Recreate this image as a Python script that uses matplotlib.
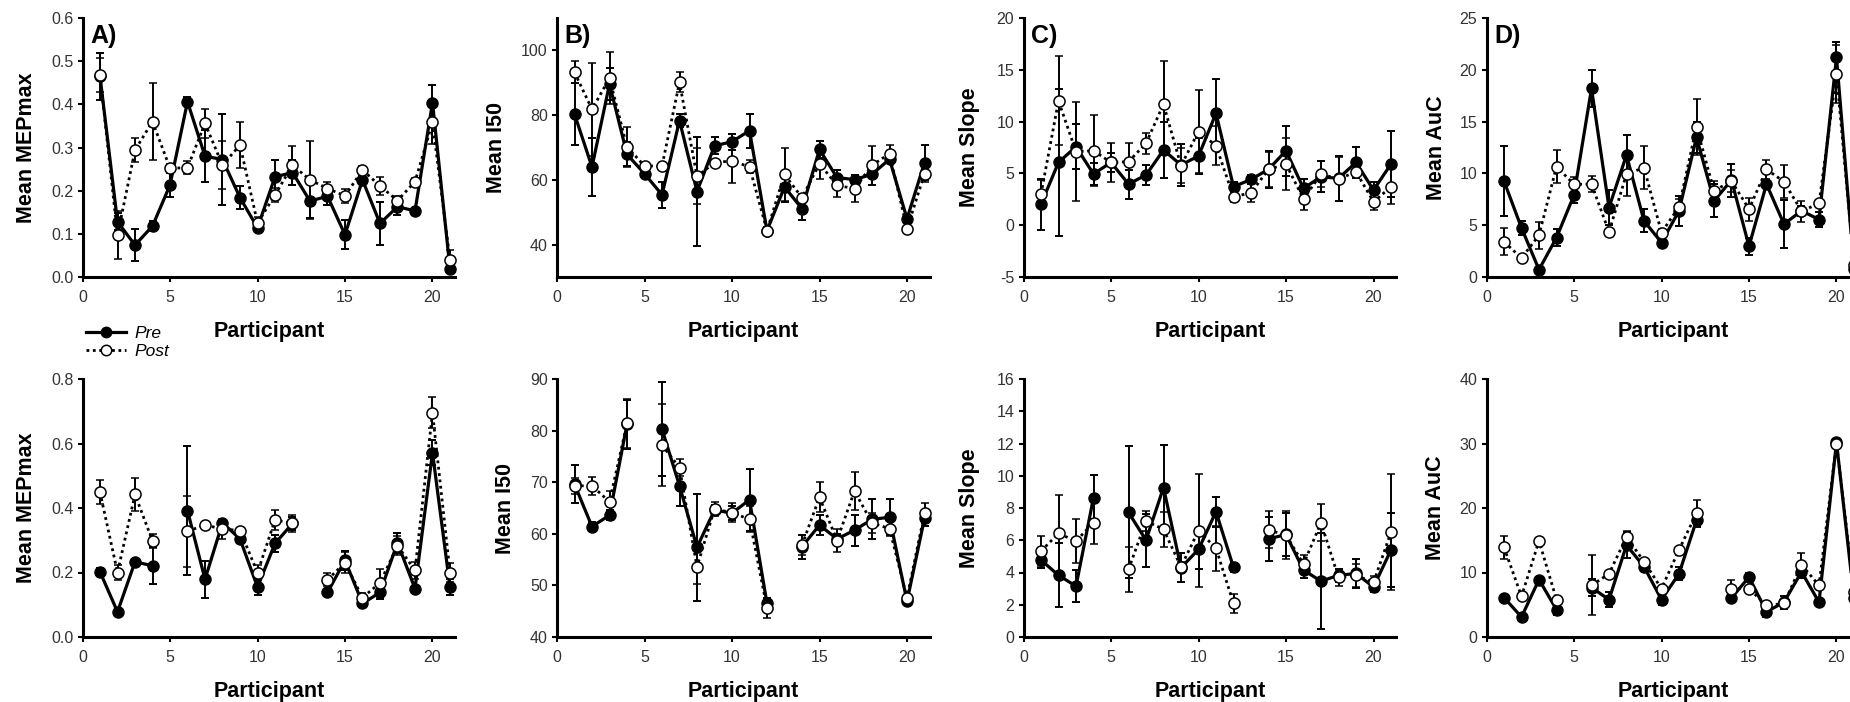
import numpy as np
import matplotlib
matplotlib.use("Agg")
import matplotlib.pyplot as plt
from matplotlib.lines import Line2D

plt.rcParams['font.family'] = ['Liberation Sans', 'DejaVu Sans']

nan = np.nan
participants = list(range(1, 22))

# ---- top row ----
mep_top_pre = [0.465, 0.128, 0.074, 0.118, 0.213, 0.406, 0.28, 0.272, 0.184, 0.114, 0.232, 0.242, 0.176, 0.187, 0.098, 0.225, 0.124, 0.163, 0.153, 0.404, 0.019]
mep_top_pre_err = [0.055, 0.02, 0.037, 0.012, 0.027, 0.01, 0.06, 0.105, 0.027, 0.01, 0.04, 0.03, 0.04, 0.02, 0.033, 0.01, 0.05, 0.02, 0.005, 0.04, 0.008]
mep_top_post = [0.468, 0.097, 0.294, 0.36, 0.252, 0.253, 0.356, 0.259, 0.306, 0.125, 0.19, 0.259, 0.225, 0.205, 0.188, 0.248, 0.211, 0.177, 0.221, 0.358, 0.039]
mep_top_post_err = [0.04, 0.055, 0.028, 0.09, 0.01, 0.015, 0.033, 0.055, 0.054, 0.015, 0.016, 0.045, 0.09, 0.015, 0.017, 0.008, 0.02, 0.01, 0.008, 0.05, 0.023]

i50_top_pre = [80.3, 64.0, 89.6, 67.9, 61.9, 55.4, 78.3, 56.4, 70.5, 71.8, 75.2, 44.3, 57.8, 51.1, 69.4, 60.7, 60.1, 61.7, 66.4, 48.0, 65.3]
i50_top_pre_err = [9.6, 9.0, 5.0, 3.7, 1.0, 4.0, 2.0, 16.7, 2.6, 2.5, 5.2, 1.0, 4.5, 3.4, 2.7, 2.3, 1.5, 3.2, 1.0, 1.0, 5.4]
i50_top_post = [93.2, 81.8, 91.4, 70.2, 64.3, 64.3, 90.1, 61.1, 65.3, 65.9, 64.0, 44.3, 61.7, 54.5, 65.0, 58.3, 57.3, 64.5, 68.1, 44.9, 61.9]
i50_top_post_err = [3.4, 14.3, 8.0, 6.2, 1.0, 1.0, 3.1, 8.6, 1.0, 6.8, 2.0, 1.0, 8.3, 1.0, 4.6, 3.6, 4.2, 6.0, 2.6, 1.0, 2.6]

slope_top_pre = [2.03, 6.06, 7.58, 4.94, 6.06, 3.97, 4.84, 7.26, 5.81, 6.68, 10.8, 3.71, 4.42, 5.39, 7.19, 3.55, 4.68, 4.52, 6.06, 3.39, 5.9]
slope_top_pre_err = [2.45, 7.1, 2.2, 1.1, 0.9, 1.4, 0.97, 2.7, 2.0, 1.7, 3.3, 0.5, 0.4, 1.8, 2.4, 0.9, 1.5, 2.2, 1.5, 0.8, 3.2]
slope_top_post = [3.0, 12.0, 7.1, 7.19, 6.06, 6.13, 7.9, 11.68, 5.74, 9.03, 7.68, 2.74, 3.13, 5.39, 5.9, 2.52, 4.94, 4.45, 5.16, 2.26, 3.7]
slope_top_post_err = [1.35, 4.3, 4.8, 3.4, 1.9, 1.85, 1.03, 4.2, 1.7, 4.0, 1.9, 0.5, 0.9, 1.7, 2.5, 1.07, 1.3, 2.1, 0.6, 0.8, 1.7]

auc_top_pre = [9.26, 4.74, 0.71, 3.8, 7.9, 18.2, 6.7, 11.77, 5.42, 3.32, 6.39, 13.48, 7.35, 9.35, 2.97, 8.97, 5.1, 6.39, 5.55, 21.2, 0.8]
auc_top_pre_err = [3.4, 0.7, 0.2, 0.8, 0.8, 1.8, 1.7, 1.9, 1.1, 0.3, 1.45, 1.5, 1.6, 1.6, 0.8, 0.4, 2.3, 0.5, 0.7, 1.5, 0.3]
auc_top_post = [3.39, 1.84, 4.03, 10.65, 8.94, 8.97, 4.35, 9.94, 10.55, 4.29, 6.77, 14.5, 8.32, 9.26, 6.55, 10.39, 9.2, 6.35, 7.1, 19.6, 1.2]
auc_top_post_err = [1.3, 0.3, 1.3, 1.6, 0.7, 0.8, 0.3, 2.1, 2.1, 0.3, 0.8, 2.7, 0.9, 1.1, 1.1, 0.9, 1.6, 1.0, 0.3, 2.8, 0.3]

# ---- bottom row (participants 5 and 13 missing) ----
mep_bot_pre = [0.202, 0.078, 0.233, 0.221, nan, 0.392, 0.179, 0.354, 0.304, 0.155, 0.29, 0.352, nan, 0.138, 0.238, 0.104, 0.138, 0.292, 0.15, 0.572, 0.155]
mep_bot_pre_err = [0.012, 0.008, 0.01, 0.057, nan, 0.2, 0.058, 0.01, 0.01, 0.025, 0.026, 0.02, nan, 0.012, 0.03, 0.008, 0.02, 0.03, 0.008, 0.04, 0.025]
mep_bot_post = [0.449, 0.2, 0.442, 0.298, nan, 0.328, 0.347, 0.335, 0.33, 0.2, 0.363, 0.352, nan, 0.178, 0.23, 0.122, 0.168, 0.283, 0.207, 0.696, 0.2]
mep_bot_post_err = [0.038, 0.024, 0.052, 0.022, nan, 0.11, 0.005, 0.03, 0.008, 0.023, 0.031, 0.025, nan, 0.02, 0.033, 0.015, 0.044, 0.03, 0.026, 0.048, 0.03]

i50_bot_pre = [69.6, 61.4, 63.6, 81.2, nan, 80.3, 69.3, 57.4, 64.6, 64.0, 66.6, 46.5, nan, 57.5, 61.7, 59.0, 60.7, 62.8, 63.2, 46.9, 63.0]
i50_bot_pre_err = [3.7, 0.8, 1.0, 4.7, nan, 9.1, 4.0, 10.4, 1.0, 1.3, 6.0, 1.0, nan, 2.3, 2.0, 1.0, 3.0, 3.9, 3.5, 0.5, 1.5]
i50_bot_post = [69.3, 69.3, 66.2, 81.4, nan, 77.2, 72.8, 53.6, 64.8, 64.1, 62.8, 45.6, nan, 57.8, 67.1, 58.7, 68.3, 62.1, 61.0, 47.6, 64.0]
i50_bot_post_err = [1.5, 1.7, 2.0, 4.7, nan, 8.0, 1.6, 3.4, 1.3, 1.8, 2.5, 2.0, nan, 2.0, 2.9, 2.2, 3.6, 2.0, 1.5, 0.5, 1.9]

slope_bot_pre = [4.77, 3.83, 3.15, 8.64, nan, 7.73, 6.0, 9.27, 4.3, 5.43, 7.77, 4.32, nan, 6.08, 6.36, 4.15, 3.46, 3.83, 3.94, 3.1, 5.4]
slope_bot_pre_err = [0.5, 2.0, 1.0, 1.4, nan, 4.1, 1.65, 2.65, 0.9, 1.2, 0.93, 0.3, nan, 1.35, 1.35, 0.5, 2.98, 0.4, 0.9, 0.3, 2.3]
slope_bot_post = [5.33, 6.42, 5.95, 7.09, nan, 4.19, 7.19, 6.68, 4.35, 6.6, 5.5, 2.08, nan, 6.64, 6.32, 4.52, 7.09, 3.69, 3.83, 3.38, 6.5]
slope_bot_post_err = [0.93, 2.4, 1.35, 1.3, nan, 1.4, 0.6, 1.1, 0.3, 3.5, 1.4, 0.6, nan, 1.15, 1.5, 0.56, 1.16, 0.55, 0.7, 0.4, 3.6]

auc_bot_pre = [6.11, 3.1, 8.9, 4.25, nan, 7.67, 5.8, 14.25, 10.9, 5.8, 9.8, 18.1, nan, 6.06, 9.3, 3.9, 5.4, 10.1, 5.4, 30.2, 6.0]
auc_bot_pre_err = [0.4, 0.3, 0.4, 0.8, nan, 1.3, 1.1, 2.0, 0.5, 0.8, 1.0, 1.0, nan, 0.5, 0.6, 0.8, 1.0, 1.0, 0.5, 0.5, 0.5]
auc_bot_post = [13.9, 6.3, 14.9, 5.8, nan, 8.0, 9.8, 15.5, 11.7, 7.5, 13.5, 19.2, nan, 7.5, 7.5, 4.9, 5.2, 11.2, 8.0, 30.0, 7.0]
auc_bot_post_err = [1.8, 0.3, 0.5, 0.4, nan, 4.65, 0.3, 0.9, 0.3, 0.3, 0.3, 2.0, nan, 1.3, 0.3, 0.5, 0.5, 1.9, 0.3, 0.5, 0.5]

x_ticks = [0, 5, 10, 15, 20]
panel_letters = ["A)", "B)", "C)", "D)"]
y_labels = ["Mean MEPmax", "Mean I50", "Mean Slope", "Mean AuC"]
x_label = "Participant"
legend_labels = ["Pre", "Post"]

top_series = [
    (mep_top_pre, mep_top_pre_err, mep_top_post, mep_top_post_err),
    (i50_top_pre, i50_top_pre_err, i50_top_post, i50_top_post_err),
    (slope_top_pre, slope_top_pre_err, slope_top_post, slope_top_post_err),
    (auc_top_pre, auc_top_pre_err, auc_top_post, auc_top_post_err),
]
bot_series = [
    (mep_bot_pre, mep_bot_pre_err, mep_bot_post, mep_bot_post_err),
    (i50_bot_pre, i50_bot_pre_err, i50_bot_post, i50_bot_post_err),
    (slope_bot_pre, slope_bot_pre_err, slope_bot_post, slope_bot_post_err),
    (auc_bot_pre, auc_bot_pre_err, auc_bot_post, auc_bot_post_err),
]
top_ylims = [(0, 0.6), (30, 110), (-5, 20), (0, 25)]
top_yticks = [np.arange(0, 0.61, 0.1), [40, 60, 80, 100], np.arange(-5, 21, 5), np.arange(0, 26, 5)]
top_fmt = ["{:.1f}", "{:.0f}", "{:.0f}", "{:.0f}"]
bot_ylims = [(0, 0.8), (40, 90), (0, 16), (0, 40)]
bot_yticks = [np.arange(0, 0.81, 0.2), np.arange(40, 91, 10), np.arange(0, 17, 2), np.arange(0, 41, 10)]
bot_fmt = ["{:.1f}", "{:.0f}", "{:.0f}", "{:.0f}"]

W, H = 1850, 702
fig = plt.figure(figsize=(W / 100, H / 100), dpi=100)

lefts = [82.5, 557, 1023.5, 1486.5]
ax_w = 372.75
XMAX = 21.3
top_row = (18, 277)
bot_row = (379, 637)
ylab_x_top = [-0.121, -0.135, -0.117, -0.107]
ylab_x_bot = [-0.121, -0.111, -0.117, -0.109]

tick_color = "#333333"


def make_ax(left, row):
    t, b = row
    return fig.add_axes([left / W, 1 - b / H, ax_w / W, (b - t) / H])


def draw(ax, series, ylim, yticks, fmt, ylab, ylab_x):
    pre, pre_e, post, post_e = series
    ax.errorbar(participants, pre, yerr=pre_e, color="black", lw=2.3, ls="-",
                marker="o", ms=8, mfc="black", mec="black", ecolor="black",
                elinewidth=1.4, capsize=3.2, capthick=1.4, zorder=3, clip_on=False)
    ax.errorbar(participants, post, yerr=post_e, color="black", lw=2.0, ls=(0, (1, 1.3)),
                marker="o", ms=8, mfc="white", mec="black", mew=1.1, ecolor="black",
                elinewidth=1.4, capsize=3.2, capthick=1.4, zorder=4, clip_on=False)
    ax.set_xlim(0, XMAX)
    ax.set_ylim(*ylim)
    ax.set_xticks(x_ticks)
    ax.set_yticks(yticks)
    ax.set_yticklabels([fmt.format(v) for v in yticks])
    for s in ["top", "right"]:
        ax.spines[s].set_visible(False)
    for s in ["left", "bottom"]:
        ax.spines[s].set_linewidth(2.2)
    ax.tick_params(axis="both", direction="out", length=3.6, width=1.5, labelsize=11.5,
                   labelcolor=tick_color, color="black")
    ax.tick_params(axis="x", pad=6)
    ax.tick_params(axis="y", pad=3)
    ax.set_ylabel(ylab, fontsize=15.5, fontweight="bold")
    ax.set_xlabel(x_label, fontsize=15.5, fontweight="bold")
    ax.yaxis.set_label_coords(ylab_x, 0.5)
    ax.xaxis.set_label_coords(0.5, -0.17)
    ax.patch.set_alpha(0)


for i in range(4):
    ax = make_ax(lefts[i], top_row)
    draw(ax, top_series[i], top_ylims[i], top_yticks[i], top_fmt[i], y_labels[i], ylab_x_top[i])
    ax.text(0.02, 0.905, panel_letters[i], transform=ax.transAxes, fontsize=18,
            fontweight="bold", va="baseline", ha="left")
    ax2 = make_ax(lefts[i], bot_row)
    draw(ax2, bot_series[i], bot_ylims[i], bot_yticks[i], bot_fmt[i], y_labels[i], ylab_x_bot[i])

handles = [
    Line2D([], [], color="black", lw=2.3, ls="-", marker="o", ms=7.5, mfc="black", mec="black"),
    Line2D([], [], color="black", lw=2.0, ls=(0, (1, 1.3)), marker="o", ms=7.5, mfc="white",
           mec="black", mew=1.1),
]
fig.legend(handles, legend_labels, loc="upper left", bbox_to_anchor=(86 / W, 1 - 326 / H),
           frameon=False, prop={"style": "italic", "size": 12.5}, handlelength=2.3,
           handletextpad=0.5, labelspacing=0.15, borderpad=0, borderaxespad=0)

fig.savefig("out.png", dpi=100)
